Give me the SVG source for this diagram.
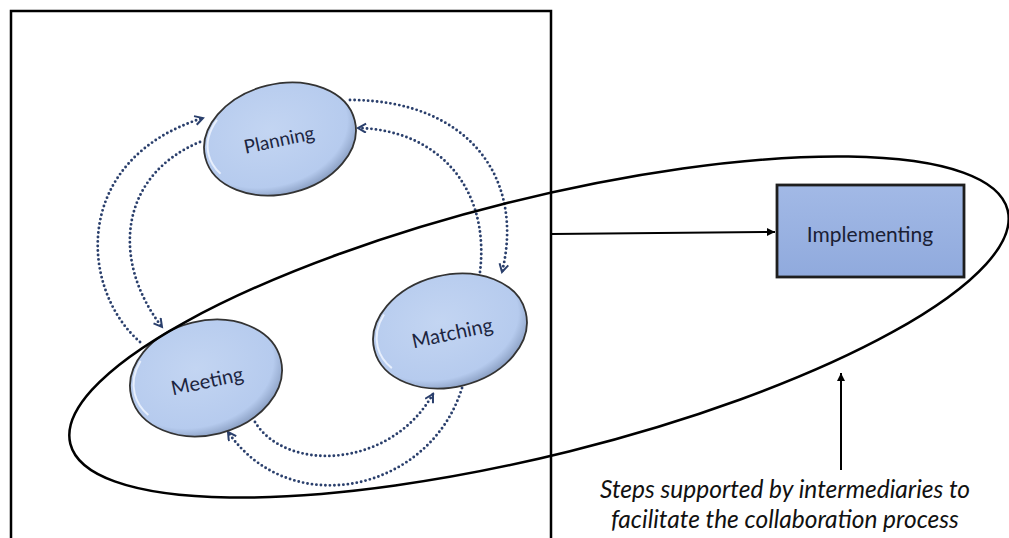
<svg xmlns="http://www.w3.org/2000/svg" width="1009" height="538" viewBox="0 0 1009 538">
<style>
.lbl{font-family:Lato,"Open Sans","Liberation Sans",sans-serif;fill:#1c2540;text-anchor:middle;dominant-baseline:central}
.oval{fill:url(#og);stroke:#333;stroke-width:1.8}
.hl{fill:none;stroke:#eef4ff;stroke-width:2;opacity:0.85}
.dot{fill:none;stroke:#2a3f6c;stroke-width:2.9;stroke-dasharray:0 4.5;stroke-linecap:round}
.solid{fill:none;stroke:#000;stroke-width:2}
.cap{font-family:Lato,"Open Sans","Liberation Sans",sans-serif;font-style:italic;font-size:24.5px;fill:#111;text-anchor:middle}
</style>
<defs>
<radialGradient id="og" cx="0.45" cy="0.4" r="0.6">
<stop offset="0" stop-color="#c3d5f2"/>
<stop offset="0.85" stop-color="#b6cbee"/>
<stop offset="1" stop-color="#8fa4c8"/>
</radialGradient>
<linearGradient id="rg" x1="0" y1="0" x2="0" y2="1">
<stop offset="0" stop-color="#a2b9e6"/>
<stop offset="1" stop-color="#90aadd"/>
</linearGradient>
<marker id="chev" markerWidth="12" markerHeight="12" refX="9" refY="5" orient="auto" markerUnits="userSpaceOnUse">
<path d="M1,0.5 L9,5 L1,9.5" fill="none" stroke="#2a3f6c" stroke-width="2"/>
</marker>
<marker id="tri" markerWidth="10" markerHeight="10" refX="8" refY="4" orient="auto" markerUnits="userSpaceOnUse">
<path d="M0,0 L8,4 L0,8 Z" fill="#000"/>
</marker>
</defs>
<rect width="1009" height="538" fill="#fff"/>
<rect x="11" y="11" width="540" height="540" fill="none" stroke="#000" stroke-width="2.5"/>

<g id="connectors">
<path class="dot" d="M140,342 C80,290 70,160 203,118" marker-end="url(#chev)"/>
<path class="dot" d="M200,142 C120,175 110,260 162,327" marker-end="url(#chev)"/>
<path class="dot" d="M350,100 C470,100 525,180 502,272" marker-end="url(#chev)"/>
<path class="dot" d="M480,272 C490,190 440,130 358,128" marker-end="url(#chev)"/>
<path class="dot" d="M255,422 C285,472 390,470 433,394" marker-end="url(#chev)"/>
<path class="dot" d="M462,388 C430,492 290,522 228,432" marker-end="url(#chev)"/>
<line class="solid" x1="552" y1="234" x2="775" y2="232" stroke-width="1.6" marker-end="url(#tri)"/>
<line class="solid" x1="841" y1="470" x2="841" y2="373" stroke-width="2.2" marker-end="url(#tri)"/>
</g>

<g id="planning">
<ellipse class="oval" cx="280" cy="139" rx="77" ry="55" transform="rotate(-14 280 139)"/>
<ellipse class="hl" cx="279" cy="137" rx="72" ry="50" transform="rotate(-14 280 139)" stroke-dasharray="60 400" stroke-dashoffset="-170"/>
<text class="lbl" x="279" y="139" font-size="19" transform="rotate(-12 279 139)">Planning</text>
</g>
<g id="meeting">
<ellipse class="oval" cx="206" cy="378" rx="77" ry="57" transform="rotate(-14 206 378)"/>
<ellipse class="hl" cx="205" cy="376" rx="72" ry="52" transform="rotate(-14 206 378)" stroke-dasharray="60 400" stroke-dashoffset="-170"/>
<text class="lbl" x="207" y="380" font-size="20" transform="rotate(-12 207 380)">Meeting</text>
</g>
<g id="matching">
<ellipse class="oval" cx="450" cy="331" rx="78" ry="56" transform="rotate(-14 450 331)"/>
<ellipse class="hl" cx="449" cy="329" rx="73" ry="51" transform="rotate(-14 450 331)" stroke-dasharray="60 400" stroke-dashoffset="-170"/>
<text class="lbl" x="452" y="332" font-size="20" transform="rotate(-12 452 332)">Matching</text>
</g>
<g id="implementing">
<rect x="777" y="185" width="187" height="92" fill="url(#rg)" stroke="#1e1e1e" stroke-width="2.8"/>
<text class="lbl" x="870" y="233" font-size="21" style="fill:#1a2035">Implementing</text>
</g>

<g id="scope">
<ellipse cx="539" cy="327" rx="483" ry="128" transform="rotate(-14 539 327)" fill="none" stroke="#000" stroke-width="2.5"/>
</g>

<g id="caption">
<text class="cap" x="785" y="498">Steps supported by intermediaries to</text>
<text class="cap" x="785" y="528">facilitate the collaboration process</text>
</g>
</svg>
